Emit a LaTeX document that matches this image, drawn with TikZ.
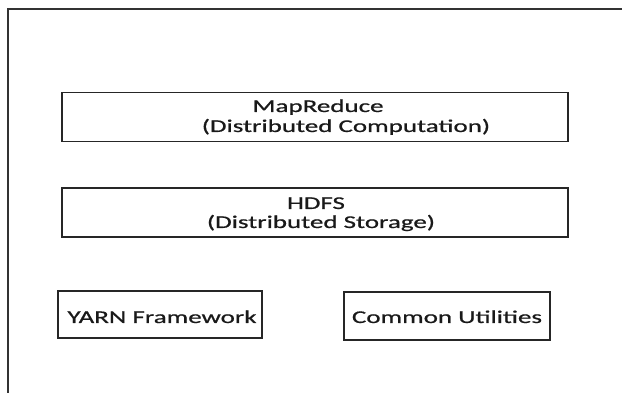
\documentclass[tikz,border=0pt]{standalone}
\usepackage{fontspec}
\setmainfont{Carlito}
\newfontfamily\lblfont{Carlito}[FakeBold=0.6]
\begin{document}
\begin{tikzpicture}[x=1pt,y=-1pt]
\tikzset{
  box/.style={draw=black!85, line width=1.6pt, inner sep=0pt},
  lbl/.style={font=\fontsize{18}{20}\lblfont, text=black!90, inner sep=0pt, anchor=base}
}
\newcommand{\wide}[1]{\scalebox{1.5}[1]{#1}}
\useasboundingbox (0,0) rectangle (622,393);
\coordinate (tl) at (8,9);
\coordinate (tr) at (622,9);
\coordinate (bl) at (8,393);
\draw[line width=1.6pt, black!80] (bl) -- (tl) -- (tr);
\node[box, minimum width=506pt, minimum height=49pt] (mr) at (315,117) {};
\node[box, minimum width=506pt, minimum height=49pt] (hdfs) at (315,212.5) {};
\node[box, minimum width=204pt, minimum height=47pt] (yarn) at (160,314.5) {};
\node[box, minimum width=206pt, minimum height=48pt] (common) at (447,316) {};
\node[lbl] (mr1) at (318,112) {\wide{MapReduce}};
\node[lbl] (mr2) at (346,132) {\wide{(Distributed Computation)}};
\node[lbl] (hd1) at (316,209) {\wide{HDFS}};
\node[lbl] (hd2) at (321,228) {\wide{(Distributed Storage)}};
\node[lbl] (ya) at (162,323) {\wide{YARN Framework}};
\node[lbl] (co) at (447,323) {\wide{Common Utilities}};
\end{tikzpicture}
\end{document}
